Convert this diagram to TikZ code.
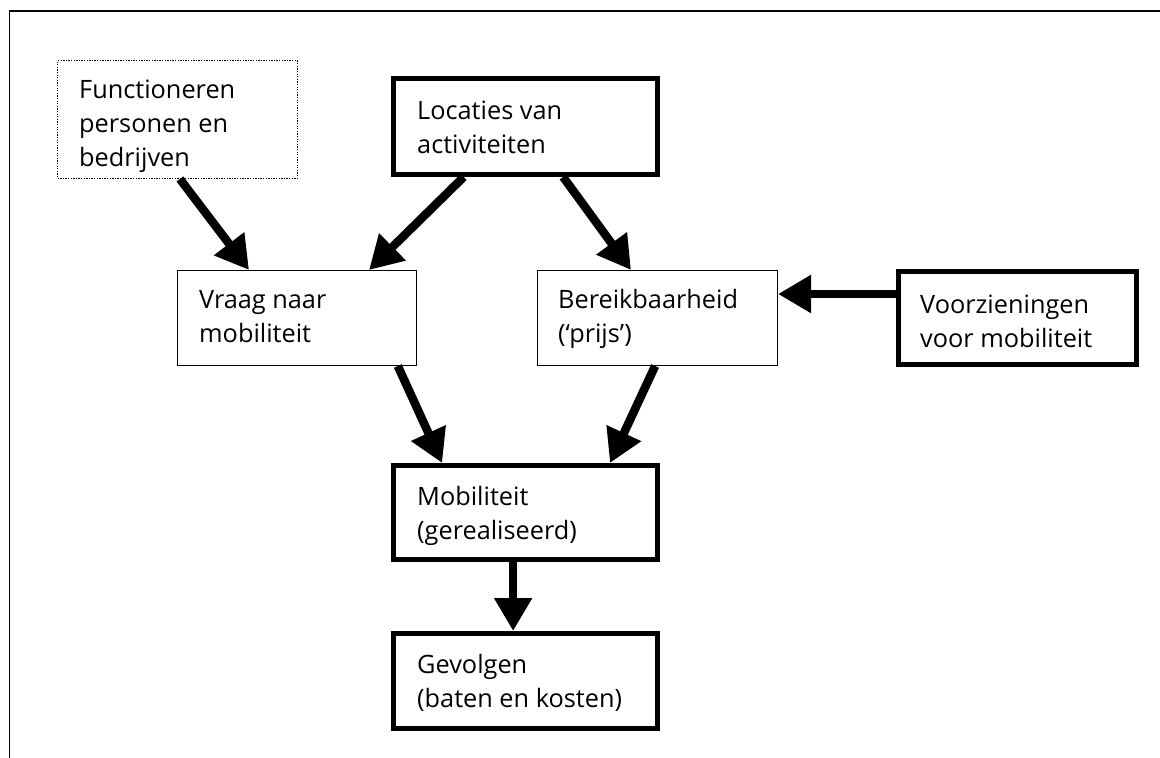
\documentclass[tikz,border=0pt]{standalone}
\usepackage{fontspec}
\setmainfont{Open Sans}
\usetikzlibrary{arrows.meta,calc}
\tikzset{
  thinbox/.style={draw, line width=1.3pt, inner sep=0pt},
  thickbox/.style={draw, line width=5pt, inner sep=0pt},
  dotbox/.style={draw, line width=1.3pt, dash pattern=on 1.3pt off 1.3pt, inner sep=0pt},
  lbl/.style={anchor=base west, inner sep=0pt},
  arr/.style={line width=8.5pt, -{Triangle[length=33pt,width=36pt]}}
}
\newcommand{\boxtext}[1]{\parbox[t]{260pt}{\raggedright\fontsize{25.3}{34}\selectfont #1}}
\begin{document}
\begin{tikzpicture}[x=1pt,y=-1pt]
\useasboundingbox (0,0) rectangle (1160,758);
% outer frame (top and left only)
\draw[line width=1.8pt] (1160,11) -- (9.5,11) -- (9.5,758);

% boxes
\node[dotbox, minimum width=239.7pt, minimum height=117.7pt] (func) at (177.5,119.5) {};
\node[thickbox, minimum width=264pt, minimum height=96pt] (loc) at (525.5,126.5) {};
\node[thinbox, minimum width=238.7pt, minimum height=94.7pt] (vraag) at (297,318) {};
\node[thinbox, minimum width=239.7pt, minimum height=94.7pt] (bereik) at (657.5,318) {};
\node[thickbox, minimum width=238pt, minimum height=93pt] (voorz) at (1017.5,318) {};
\node[thickbox, minimum width=264pt, minimum height=94pt] (mob) at (525.5,512.5) {};
\node[thickbox, minimum width=264pt, minimum height=95pt] (gev) at (525.5,681) {};

% texts
\node[lbl] (funct) at (79,98) {\boxtext{Functioneren\\personen en\\bedrijven}};
\node[lbl] (loct) at (417,119) {\boxtext{Locaties van\\activiteiten}};
\node[lbl] (vraagt) at (199,308) {\boxtext{Vraag naar\\mobiliteit}};
\node[lbl] (bereikt) at (558,308) {\boxtext{Bereikbaarheid\\(‘prijs’)}};
\node[lbl] (voorzt) at (920,313) {\boxtext{Voorzieningen\\voor mobiliteit}};
\node[lbl] (mobt) at (417,505) {\boxtext{Mobiliteit\\(gerealiseerd)}};
\node[lbl] (gevt) at (417,673) {\boxtext{Gevolgen\\(baten en kosten)}};

% connectors
\draw[arr] ($(func.south west)!0.51!(func.south east)$) -- ($(vraag.north west)!0.3!(vraag.north east)$);
\draw[arr] ($(loc.south west)!0.27!(loc.south east)$) -- ($(vraag.north west)!0.8!(vraag.north east)$);
\draw[arr] ($(loc.south west)!0.64!(loc.south east)$) -- ($(bereik.north west)!0.39!(bereik.north east)$);
\draw[arr] ($(voorz.west)+(0,-24)$) -- ($(bereik.east)+(0,-24)$);
\draw[arr] ($(vraag.south west)!0.92!(vraag.south east)$) -- ($(mob.north west)!0.19!(mob.north east)$);
\draw[arr] ($(bereik.south west)!0.49!(bereik.south east)$) -- ($(mob.north west)!0.814!(mob.north east)$);
\draw[arr] ($(mob.south west)!0.454!(mob.south east)$) -- ($(gev.north west)!0.454!(gev.north east)$);
\end{tikzpicture}
\end{document}
